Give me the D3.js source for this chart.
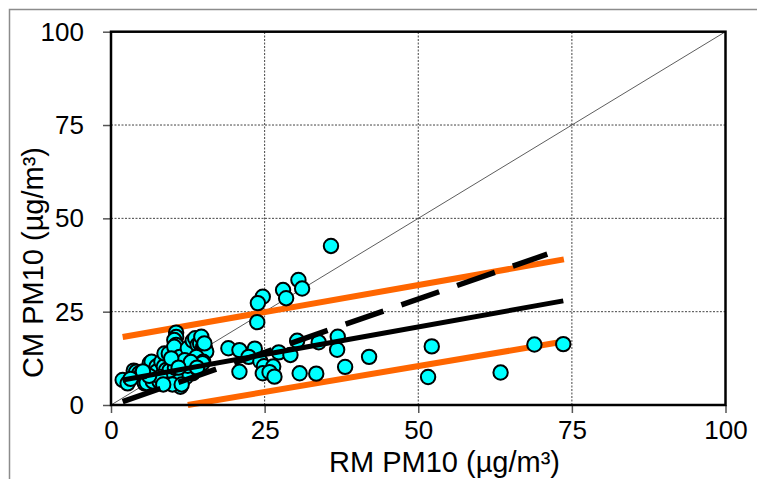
<!DOCTYPE html>
<html>
<head>
<meta charset="utf-8">
<script src="https://cdn.jsdelivr.net/npm/d3@7"></script>
<style>
  html, body { margin: 0; padding: 0; background: #fff; }
  svg { display: block; }
  text { font-family: "Liberation Sans", Arial, sans-serif; fill: #000; }
</style>
</head>
<body>
<svg id="chart" width="757" height="479"></svg>
<script>
// ---- data ----
const rmValues = [35.8,30.5,31.1,28.0,28.5,24.7,23.9,23.8,19.1,20.9,23.4,22.4,27.3,29.2,30.3,33.8,36.9,36.8,42.0,24.3,24.9,26.4,20.9,24.7,25.8,26.6,30.7,33.4,38.1,52.2,51.6,63.4,68.9,73.6,
  1.9,2.7,3.7,4.1,4.6,5.0,5.7,5.5,5.8,6.3,6.6,7.4,7.4,8.2,6.8,7.9,8.7,8.6,8.7,9.4,9.0,9.8,9.8,10.6,10.6,10.3,10.6,10.3,10.1,11.2,11.7,11.2,11.7,11.3,12.5,13.3,13.7,14.1,14.5,15.0,15.3,15.5,13.9,15.0,14.9,13.3,13.3,12.2,10.5,9.5,10.4,12.5,8.0,6.2,3.2,14.7,15.2,12.0,13.0,9.8,11.0,10.0,11.5,8.5,14.0,5.2];
const cmValues = [42.6,33.5,31.2,30.8,28.6,29.0,27.3,22.2,15.2,14.7,15.1,12.9,14.1,13.4,17.2,16.8,18.3,14.8,12.9,11.7,10.4,10.3,8.9,8.5,8.8,7.6,8.5,8.4,10.2,15.7,7.5,8.7,16.2,16.3,
  6.7,5.8,9.2,8.9,8.5,8.3,7.1,5.8,5.9,11.2,11.6,10.3,8.9,11.6,6.3,6.3,8.5,10.3,13.8,13.8,9.4,6.3,5.8,19.4,18.2,17.4,16.1,15.6,11.2,12.9,10.7,8.5,6.7,4.9,15.2,17.2,17.9,16.1,16.5,15.6,15.2,14.3,12.9,11.6,11.2,9.4,8.5,7.5,7.8,9.2,10.0,10.5,7.5,7.8,7.0,18.3,16.5,12.0,11.5,12.5,10.0,5.5,5.5,5.5,10.0,9.0];

const identityX = [0, 100];
const identityY = [0, 100];
const fitSolidX = [1.9, 73.6];
const fitSolidY = [6.7, 27.9];
const fitDashedX = [1.9, 71.0];
const fitDashedY = [0.9, 40.4];
const upperBandX = [1.9, 73.7];
const upperBandY = [18.2, 39.0];
const lowerBandX = [12.5, 73.7];
const lowerBandY = [0.0, 17.0];

const tickValues = [0, 25, 50, 75, 100];
const tickLabels = ["0", "25", "50", "75", "100"];
const xTitle = "RM PM10 (µg/m³)";
const yTitle = "CM PM10 (µg/m³)";

// ---- drawing ----
const svg = d3.select("#chart");
const pLeft = 111, pRight = 725.5, pTop = 31.7, pBottom = 405;
const x = d3.scaleLinear().domain([0, 100]).range([pLeft, pRight]);
const y = d3.scaleLinear().domain([0, 100]).range([pBottom, pTop]);

// outer frame (chart area border)
svg.append("path")
  .attr("d", `M9.5,479 L9.5,9.5 L757,9.5`)
  .attr("fill", "none").attr("stroke", "#8c8c8c").attr("stroke-width", 1.5);

// gridlines
const grid = svg.append("g");
[25, 50, 75].forEach(v => {
  grid.append("line").attr("x1", x(v)).attr("x2", x(v)).attr("y1", y(0)).attr("y2", y(100))
    .attr("stroke", "#444").attr("stroke-width", 1).attr("stroke-dasharray", "2,1.5");
  grid.append("line").attr("y1", y(v)).attr("y2", y(v)).attr("x1", x(0)).attr("x2", x(100))
    .attr("stroke", "#444").attr("stroke-width", 1).attr("stroke-dasharray", "2,1.5");
});

// axes
const xAxis = d3.axisBottom(x).tickValues(tickValues).tickFormat((d, i) => tickLabels[i]).tickSize(8).tickPadding(8);
const yAxis = d3.axisLeft(y).tickValues(tickValues).tickFormat((d, i) => tickLabels[i]).tickSize(8).tickPadding(19);

const gx = svg.append("g").attr("transform", `translate(0,${pBottom})`).call(xAxis);
const gy = svg.append("g").attr("transform", `translate(${pLeft},0)`).call(yAxis);
[gx, gy].forEach(g => {
  g.select(".domain").remove();
  g.selectAll(".tick line").attr("stroke", "#555").attr("stroke-width", 1.5);
  g.selectAll(".tick text").style("font-size", "26px").attr("fill", "#000")
    .style("font-family", '"Liberation Sans", Arial, sans-serif');
});
gx.selectAll(".tick text").attr("dy", "0.71em");

// identity line
const line = d3.line().x(d => x(d[0])).y(d => y(d[1]));
svg.append("path").datum(d3.zip(identityX, identityY)).attr("d", line)
  .attr("fill", "none").attr("stroke", "#333").attr("stroke-width", 0.8);

// orange band lines
[[upperBandX, upperBandY], [lowerBandX, lowerBandY]].forEach(([xs, ys]) => {
  svg.append("path").datum(d3.zip(xs, ys)).attr("d", line)
    .attr("fill", "none").attr("stroke", "#ff6600").attr("stroke-width", 6);
});

// points
svg.append("g").selectAll("circle").data(d3.zip(rmValues, cmValues)).join("circle")
  .attr("cx", d => x(d[0])).attr("cy", d => y(d[1])).attr("r", 7.2)
  .attr("fill", "#00ffff").attr("stroke", "#000").attr("stroke-width", 2);

// black fit lines
svg.append("path").datum(d3.zip(fitSolidX, fitSolidY)).attr("d", line)
  .attr("fill", "none").attr("stroke", "#000").attr("stroke-width", 5);
svg.append("path").datum(d3.zip(fitDashedX, fitDashedY)).attr("d", line)
  .attr("fill", "none").attr("stroke", "#000").attr("stroke-width", 5.5)
  .attr("stroke-dasharray", "40,19");

// plot border
svg.append("rect").attr("x", pLeft).attr("y", pTop).attr("width", pRight - pLeft).attr("height", pBottom - pTop)
  .attr("fill", "none").attr("stroke", "#000").attr("stroke-width", 2.5);

// titles
svg.append("text").attr("x", 444.5).attr("y", 472).attr("text-anchor", "middle")
  .style("font-size", "29px").text(xTitle);
svg.append("text").attr("transform", "translate(43,262.5) rotate(-90)").attr("text-anchor", "middle")
  .style("font-size", "29px").text(yTitle);
</script>
</body>
</html>
